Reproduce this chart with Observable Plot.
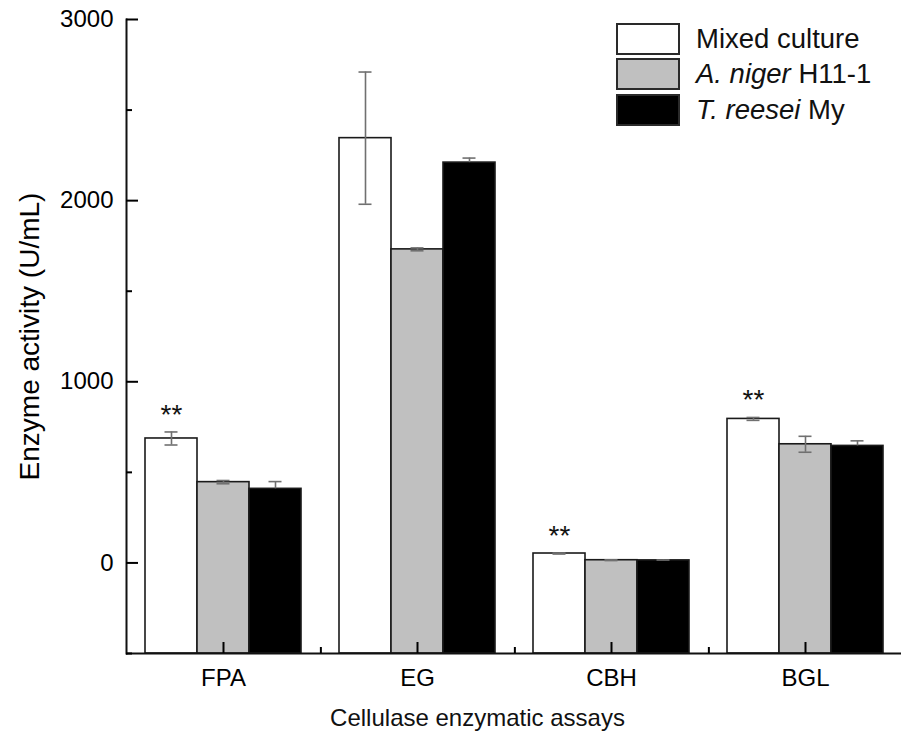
<!DOCTYPE html>
<html>
<head>
<meta charset="utf-8">
<script src="https://cdn.jsdelivr.net/npm/d3@7"></script>
<script src="https://cdn.jsdelivr.net/npm/@observablehq/plot@0.6"></script>
<style>
  body { margin: 0; background: #fff; font-family: "Liberation Sans", Arial, sans-serif; }
  #wrap { position: relative; width: 901px; height: 732px; }
  #legend { position: absolute; left: 616px; top: 21px; }
  .row { display: flex; align-items: center; height: 35.5px; }
  .box { width: 60px; height: 28px; border: 2px solid #2a2a2a; box-sizing: content-box; }
  .lab { margin-left: 16px; font-size: 27.5px; color: #111; white-space: nowrap; }
</style>
</head>
<body>
<div id="wrap"><div id="legend"></div></div>
<script>
// ---- data ----
const assays = ["FPA", "EG", "CBH", "BGL"];
const series = ["Mixed culture", "A. niger H11-1", "T. reesei My"];
const seriesColors = ["#ffffff", "#c0c0c0", "#000000"];
const legendItalic = ["", "A. niger", "T. reesei"];
const legendRoman = ["Mixed culture", " H11-1", " My"];

const mixedValues  = [687, 2345, 52, 795];
const mixedErrors  = [36, 365, 3, 8];
const nigerValues  = [446, 1731, 15, 655];
const nigerErrors  = [9, 8, 2, 44];
const reeseiValues = [409, 2210, 14, 646];
const reeseiErrors = [40, 25, 2, 28];
const significance = ["**", "", "**", "**"];   // marks above Mixed culture bars

const yDomain = [-500, 3000];
const yMajorTicks = [0, 1000, 2000, 3000];
const yMinorTicks = [-500, 500, 1500, 2500];
const xTitle = "Cellulase enzymatic assays";
const yTitle = "Enzyme activity (U/mL)";

// ---- table built from the arrays ----
const valueSets = [mixedValues, nigerValues, reeseiValues];
const errorSets = [mixedErrors, nigerErrors, reeseiErrors];
const rows = [];
series.forEach((s, si) => assays.forEach((a, ai) => rows.push({
  assay: a, series: s, value: valueSets[si][ai], err: errorSets[si][ai],
  sig: si === 0 ? significance[ai] : "", hideLower: si === 2
})));

const width = 901, height = 732;
const marginLeft = 124, marginRight = -2, marginTop = 19, marginBottom = 79;
const step = (width - marginLeft - marginRight) / assays.length;
const errColor = "#707070";

const chart = Plot.plot({
  width, height, marginLeft, marginRight, marginTop, marginBottom,
  style: { fontFamily: "'Liberation Sans', Arial, sans-serif", background: "white", color: "black", overflow: "visible" },
  fx: { domain: assays, paddingInner: 0, paddingOuter: 0, label: null },
  x: { domain: series, paddingInner: 0, paddingOuter: 0.365, axis: null },
  y: { domain: yDomain, label: null },
  color: { domain: series, range: seriesColors },
  marks: [
    Plot.barY(rows, { fx: "assay", x: "series", y1: () => yDomain[0], y2: "value", fill: "series", stroke: "#1a1a1a", strokeWidth: 1.6 }),
    Plot.ruleX(rows, { fx: "assay", x: "series", y1: d => d.hideLower ? d.value : d.value - d.err, y2: d => d.value + d.err, stroke: errColor, strokeWidth: 1.6 }),
    Plot.tickY(rows, { fx: "assay", x: "series", y: d => d.value + d.err, stroke: errColor, strokeWidth: 1.6, insetLeft: 19.5, insetRight: 19.5 }),
    Plot.tickY(rows.filter(d => !d.hideLower), { fx: "assay", x: "series", y: d => d.value - d.err, stroke: errColor, strokeWidth: 1.6, insetLeft: 19.5, insetRight: 19.5 }),
    Plot.text(rows.filter(d => d.sig), { fx: "assay", x: "series", y: d => d.value + d.err, text: "sig", lineAnchor: "bottom", dy: -8, fontSize: 28, fill: "#111" }),
    Plot.ruleY([yDomain[0]], { stroke: "#111", strokeWidth: 2 }),
    Plot.frame({ anchor: "left", facet: "super", stroke: "#111", strokeWidth: 2 }),
    Plot.axisY(yMajorTicks, { tickSize: -12, tickPadding: 25, fontSize: 24, tickFormat: d => String(d), label: null, strokeWidth: 2 }),
    Plot.axisY(yMinorTicks, { tickSize: -6, tickFormat: () => "", label: null, strokeWidth: 2 }),
    Plot.axisY([], { tickSize: 0, label: yTitle, labelAnchor: "center", labelArrow: "none", labelOffset: 107, fontSize: 28 }),
    Plot.axisFx({ anchor: "bottom", tickSize: -11, tickPadding: 26, fontSize: 24, label: null, strokeWidth: 2 }),
    Plot.axisFx({ anchor: "bottom", tickSize: -6, tickFormat: () => "", dx: step / 2, label: null, strokeWidth: 2 }),
    Plot.text([xTitle], { facet: "super", frameAnchor: "bottom", lineAnchor: "top", dx: -37, dy: 55, fontSize: 24, fill: "#111" })
  ]
});
document.getElementById("wrap").prepend(chart);

// ---- legend ----
const legend = d3.select("#legend");
series.forEach((s, i) => {
  const row = legend.append("div").attr("class", "row");
  row.append("div").attr("class", "box").style("background", seriesColors[i]);
  const lab = row.append("div").attr("class", "lab");
  if (legendItalic[i]) lab.append("i").text(legendItalic[i]);
  lab.append("span").text(legendRoman[i]);
});
</script>
</body>
</html>
